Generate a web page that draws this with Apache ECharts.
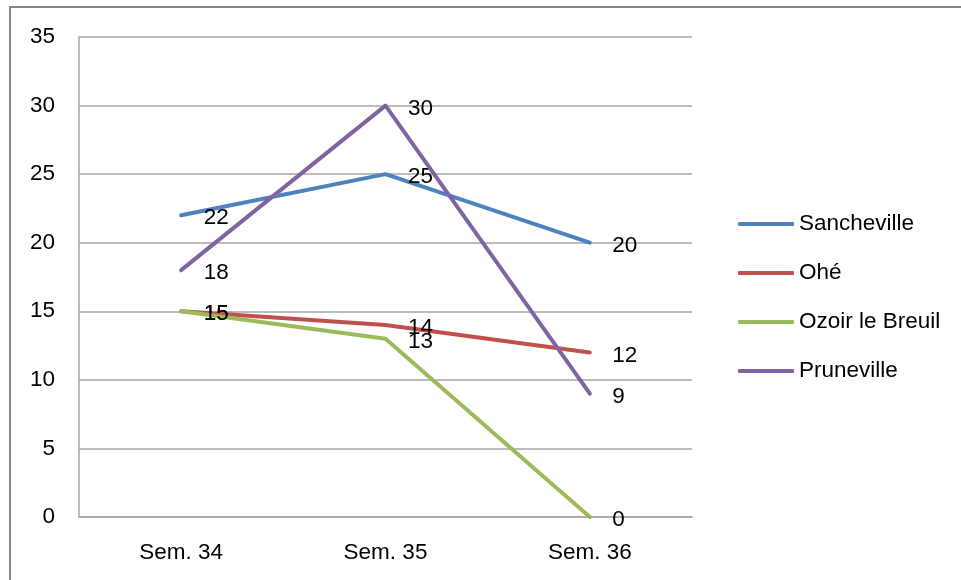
<!DOCTYPE html>
<html>
<head>
<meta charset="utf-8">
<script src="https://cdn.jsdelivr.net/npm/echarts@6/dist/echarts.min.js"></script>
<style>
html,body{margin:0;padding:0;background:#fff;}
#chart{width:961px;height:580px;}
</style>
</head>
<body>
<div id="chart"></div>
<script>
const categories = ['Sem. 34', 'Sem. 35', 'Sem. 36'];
const seriesNames = ['Sancheville', 'Ohé', 'Ozoir le Breuil', 'Pruneville'];
const sanchevilleValues = [22, 25, 20];
const oheValues = [15, 14, 12];
const ozoirValues = [15, 13, 0];
const prunevilleValues = [18, 30, 9];
const yTicks = [0, 5, 10, 15, 20, 25, 30, 35];

const colors = ['#4F81BD', '#C0504D', '#9BBB59', '#8064A2'];
const allValues = [sanchevilleValues, oheValues, ozoirValues, prunevilleValues];
const FONT = 'Liberation Sans';
const FS = 22.5;

const chart = echarts.init(document.getElementById('chart'), null, {renderer: 'canvas'});

const series = seriesNames.map((name, i) => ({
  name: name,
  type: 'line',
  data: allValues[i],
  symbol: 'circle',
  symbolSize: 1,
  showSymbol: true,
  itemStyle: {color: colors[i]},
  lineStyle: {color: colors[i], width: 4, cap: 'round', join: 'round'},
  emphasis: {disabled: true},
  animation: false,
  z: 2 + i,
  label: {
    show: true,
    position: 'right',
    distance: 22,
    offset: [0, 3],
    color: '#000',
    fontFamily: FONT,
    fontSize: FS
  }
}));

chart.setOption({
  animation: false,
  color: colors,
  graphic: [{
    type: 'rect',
    shape: {x: 10, y: 7, width: 1000, height: 700},
    style: {fill: 'none', stroke: '#868686', lineWidth: 2},
    silent: true,
    z: -10
  }],
  grid: {left: 79, right: 269, top: 37, bottom: 63, containLabel: false},
  legend: {
    orient: 'vertical',
    left: 733,
    top: 206,
    itemWidth: 56,
    itemHeight: 4,
    itemGap: 23,
    data: seriesNames.map((n, i) => ({name: n, icon: 'roundRect', itemStyle: {color: colors[i]}})),
    itemStyle: {borderWidth: 0},
    textStyle: {color: '#000', fontFamily: FONT, fontSize: FS, lineHeight: 26},
    selectedMode: false
  },
  xAxis: {
    type: 'category',
    data: categories,
    boundaryGap: true,
    axisLine: {show: true, lineStyle: {color: '#A6A6A6', width: 1.5}},
    axisTick: {show: false},
    axisLabel: {color: '#000', fontFamily: FONT, fontSize: FS, margin: 24}
  },
  yAxis: {
    type: 'value',
    min: yTicks[0],
    max: yTicks[yTicks.length - 1],
    interval: 5,
    axisLine: {show: true, lineStyle: {color: '#A6A6A6', width: 1.5}},
    axisTick: {show: false},
    splitLine: {show: true, lineStyle: {color: '#A6A6A6', width: 1.5}},
    axisLabel: {color: '#000', fontFamily: FONT, fontSize: FS, margin: 24}
  },
  series: series
});
</script>
</body>
</html>
